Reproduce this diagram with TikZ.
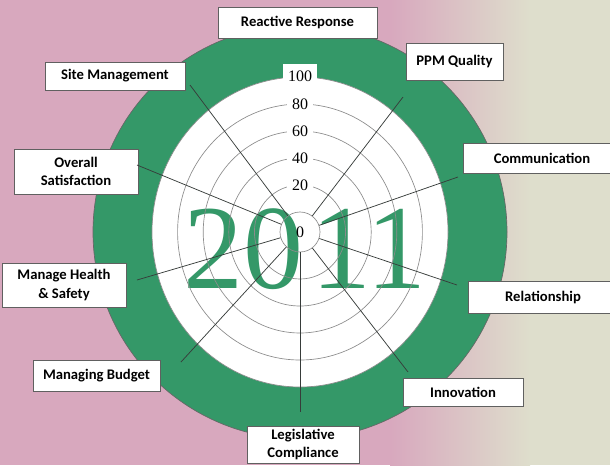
\documentclass[tikz,border=0pt]{standalone}
\usepackage{fontspec}
\setmainfont{Liberation Serif}
\newfontfamily\boxfont{Carlito}
\usetikzlibrary{positioning}

\definecolor{discgreen}{RGB}{52,152,104}
\definecolor{bgpink}{RGB}{216,168,190}
\definecolor{bgcream}{RGB}{222,222,204}
\definecolor{ringgray}{RGB}{140,140,140}
\definecolor{spokegray}{RGB}{55,60,58}

\tikzset{
  catbox/.style={draw=gray!75!black, fill=white, line width=0.6pt, align=center,
    inner sep=0pt, font=\boxfont\bfseries\fontsize{11}{13.5}\selectfont},
  ring/.style={draw=ringgray, line width=0.5pt},
  spoke/.style={draw=spokegray, line width=0.55pt},
  scalelbl/.style={fill=white, inner xsep=4pt, inner ysep=2.5pt,
    font=\fontsize{12}{12}\selectfont}
}

\begin{document}
\begin{tikzpicture}[x=0.75pt,y=-0.75pt]
\useasboundingbox (0,0) rectangle (610,465);
% background
\fill[bgpink] (0,0) rectangle (610,465);
\shade[left color=bgpink, right color=bgcream] (390,0) rectangle (530,465);
\fill[bgcream] (530,0) rectangle (610,465);
% discs
\filldraw[fill=discgreen, draw=black!60, line width=0.5pt] (300,232) circle [radius=155.25pt];
\filldraw[fill=white, ring] (300,232) ellipse [x radius=111pt, y radius=116.25pt];
\node[text=discgreen, font=\fontsize{90}{90}\selectfont, anchor=base, inner sep=0pt] (year) at (305,288) {20\kern6pt11};
% rings and scale
\foreach \k/\v in {1/20,2/40,3/60,4/80} {
  \pgfmathsetmacro\rx{(20+25.6*\k)*0.75}
  \pgfmathsetmacro\ry{(20+27*\k)*0.75}
  \draw[ring] (300,232) ellipse [x radius=\rx pt, y radius=\ry pt];
}
\foreach \k/\v in {1/20,2/40,3/60,4/80}
  \node[scalelbl] (lbl\v) at (300,{232-20-27*\k}) {\v};
\node[scalelbl, inner ysep=5pt] (lbl100) at (300,76) {100};
\node[ring, circle, minimum size=30pt, inner sep=0pt, font=\fontsize{12}{12}\selectfont] (ctr) at (300,232) {0};
% category boxes
\node[catbox, minimum width=119.25pt, minimum height=23.25pt] (reactive) at (297.5,22.5) {Reactive Response};
\node[catbox, minimum width=72.75pt, minimum height=27.75pt] (ppm) at (454.5,61.5) {PPM Quality};
\node[catbox, minimum width=118.5pt, minimum height=22.5pt] (comm) at (542,158) {Communication};
\node[catbox, minimum width=112.5pt, minimum height=24pt] (rel) at (543,297) {Relationship};
\node[catbox, minimum width=90pt, minimum height=21pt] (innov) at (463,392) {Innovation};
\node[catbox, minimum width=84pt, minimum height=27.75pt] (legis) at (303,444.5) {Legislative\\Compliance};
\node[catbox, minimum width=95.25pt, minimum height=23.25pt] (budget) at (96.5,375.5) {Managing Budget};
\node[catbox, minimum width=93pt, minimum height=33pt] (health) at (64,285) {Manage Health\\\& Safety};
\node[catbox, minimum width=93pt, minimum height=33.75pt] (overall) at (76,171.5) {Overall\\Satisfaction};
\node[catbox, minimum width=105pt, minimum height=21pt] (site) at (115,76) {Site Management};
% spokes
\coordinate (ppmEnd) at (403,97);
\coordinate (commEnd) at (458,177);
\coordinate (relEnd) at (457,285);
\coordinate (innovEnd) at (408,372);
\coordinate (legisEnd) at (300,412);
\coordinate (budgetEnd) at (181,362);
\coordinate (healthEnd) at (137,280);
\coordinate (overallEnd) at (137,165);
\coordinate (siteEnd) at (190,85);
\foreach \e in {ppm,comm,rel,innov,legis,budget,health,overall,site}
  \draw[spoke] (ctr) -- (\e End);
\end{tikzpicture}
\end{document}
